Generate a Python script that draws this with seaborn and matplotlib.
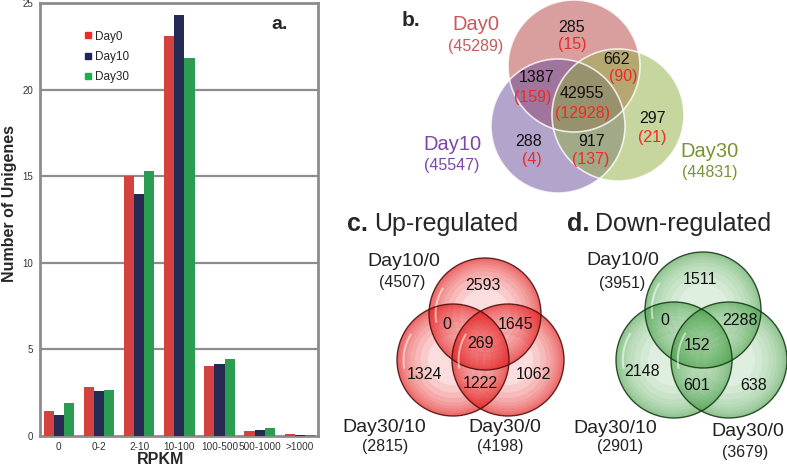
import matplotlib
matplotlib.use("Agg")
import matplotlib.pyplot as plt
from matplotlib.patches import Circle, Wedge
from matplotlib.lines import Line2D
import seaborn as sns
import pandas as pd

# ---------------- data ----------------
categories = ["0", "0-2", "2-10", "10-100", "100-500", "500-1000", ">1000"]
series = ["Day0", "Day10", "Day30"]
day0 = [1.45, 2.83, 15.0, 23.1, 4.05, 0.30, 0.10]
day10 = [1.2, 2.6, 14.0, 24.3, 4.18, 0.35, 0.08]
day30 = [1.92, 2.65, 15.3, 21.8, 4.45, 0.45, 0.08]
yticks = [0, 5, 10, 15, 20, 25]

# Venn b
venn_b_sets = ["Day0", "Day10", "Day30"]
venn_b_totals = ["(45289)", "(45547)", "(44831)"]
venn_b_counts = ["285", "662", "1387", "42955", "297", "288", "917"]
venn_b_sub = ["(15)", "(90)", "(159)", "(12928)", "(21)", "(4)", "(137)"]

# Venn c (up) and d (down)
venn_sets = ["Day10/0", "Day30/10", "Day30/0"]
venn_c_totals = ["(4507)", "(2815)", "(4198)"]
venn_c_counts = ["2593", "0", "1645", "269", "1324", "1222", "1062"]
venn_d_totals = ["(3951)", "(2901)", "(3679)"]
venn_d_counts = ["1511", "0", "2288", "152", "2148", "601", "638"]

# ---------------- style ----------------
sns.set_style("white")
plt.rcParams["font.family"] = ["Liberation Sans", "DejaVu Sans"]

fig = plt.figure(figsize=(7.87, 4.73), dpi=100)
W, H = 787, 473

# ---------------- panel a ----------------
ax = fig.add_axes([40 / W, 37 / H, 278 / W, 433 / H])
df = pd.DataFrame({
    "RPKM": categories * 3,
    "value": day0 + day10 + day30,
    "day": [s for s in series for _ in categories],
})
colors = ["#ec2a26", "#1e2459", "#18b04c"]
sns.barplot(data=df, x="RPKM", y="value", hue="day", palette=colors,
            width=0.76, gap=0, ax=ax, legend=False, zorder=3,
            edgecolor="none", linewidth=0)
ax.set_xlim(-0.47, 6.45)
ax.set_ylim(0, 25)
ax.set_yticks(yticks)
ax.set_yticklabels([str(v) for v in yticks], fontsize=7, color="#333333")
ax.tick_params(axis="y", length=0, pad=5)
ax.tick_params(axis="x", which="major", length=0, labelsize=7.2, pad=4,
               labelcolor="#333333")
ax.set_xticks([i + 0.5 for i in range(6)], minor=True)
ax.tick_params(axis="x", which="minor", direction="in", length=4, width=2,
               color="#8c8c8c")
for y in yticks[1:-1]:
    ax.axhline(y, color="#8c8c8c", lw=1.6, zorder=1)
for sp in ax.spines.values():
    sp.set_color("#8c8c8c")
    sp.set_linewidth(2)
ax.set_xlabel("RPKM", fontsize=11.5, fontweight="bold")
ax.xaxis.set_label_coords(0.435, -0.038)
ax.set_ylabel("Number of Unigenes", fontsize=11.5, fontweight="bold")
ax.yaxis.set_label_coords(-0.083, 0.536)
handles = [Line2D([], [], marker="s", ls="", color=c, markersize=4.5) for c in colors]
ax.legend(handles, series, loc="upper left", bbox_to_anchor=(0.14, 0.95),
          frameon=False, fontsize=8.5, handlelength=0.6, handletextpad=0.3,
          labelspacing=0.7, borderpad=0)
ax.text(0.862, 0.95, "a.", transform=ax.transAxes, fontsize=14,
        fontweight="bold", ha="center", va="center")

# ---------------- overlay for Venn diagrams ----------------
ov = fig.add_axes([0, 0, 1, 1])
ov.set_xlim(0, W)
ov.set_ylim(H, 0)
ov.axis("off")
ov.patch.set_visible(False)

# panel b
b_centers = [(574, 66), (558, 126), (618, 115)]
b_r = [66, 67, 66]
b_fill = ["#b44141", "#694b9b", "#91af41"]
for (cx, cy), r, c in zip(b_centers, b_r, b_fill):
    ov.add_patch(Circle((cx, cy), r, facecolor=c, alpha=0.5, edgecolor="none"))
for (cx, cy), r in zip(b_centers, b_r):
    ov.add_patch(Circle((cx, cy), r, fill=False, edgecolor="white", lw=1.2, alpha=0.8))

ov.text(411, 20, "b.", fontsize=15, fontweight="bold", ha="center", va="center")
b_label_pos = [(476, 25), (452, 144), (710, 151)]
b_total_pos = [(476, 46), (452, 165), (710, 172)]
b_label_col = ["#c85a5a", "#7a48a8", "#76962f"]
for s, t, p, q, c in zip(venn_b_sets, venn_b_totals, b_label_pos, b_total_pos, b_label_col):
    ov.text(*p, s, fontsize=14.5, color=c, ha="center", va="center")
    ov.text(*q, t, fontsize=11.5, color=c, ha="center", va="center")

b_num_pos = [(572, 27), (617, 59), (537, 78), (582, 94), (653, 118), (529, 141), (592, 141)]
b_sub_pos = [(572, 44), (623, 77), (533, 97), (583, 113), (652, 137), (532, 159), (591, 159)]
for s, p in zip(venn_b_counts, b_num_pos):
    ov.text(*p, s, fontsize=11.5, color="#111111", ha="center", va="center")
for s, p in zip(venn_b_sub, b_sub_pos):
    ov.text(*p, s, fontsize=11.5, color="#ee2a24", ha="center", va="center")


def glossy_venn(centers, r, color, edge, base_alpha, ring_alpha):
    fracs = [0.55, 0.42, 0.32, 0.24, 0.18, 0.13, 0.09, 0.06, 0.035]
    for (cx, cy) in centers:
        ov.add_patch(Circle((cx, cy), r, facecolor=color, alpha=base_alpha,
                            edgecolor="none"))
        for f in fracs:
            ov.add_patch(Wedge((cx, cy), r, 0, 360, width=r * f,
                               facecolor=color, alpha=ring_alpha, edgecolor="none"))
    for (cx, cy) in centers:
        ov.add_patch(Circle((cx, cy), r, fill=False, edgecolor=edge, lw=1.0, alpha=0.85))
        ov.add_patch(Wedge((cx, cy), r * 0.9, 170, 212, width=r * 0.035,
                           facecolor="white", alpha=0.55, edgecolor="none"))


# panel c
c_centers = [(485, 314), (453, 360), (508, 360)]
glossy_venn(c_centers, 56, "#e81c1c", "#4a0c0c", 0.15, 0.095)
ov.text(347, 224, "c.", fontsize=18, fontweight="bold", ha="left", va="center")
ov.text(374, 224, "Up-regulated", fontsize=18, ha="left", va="center")
c_num_pos = [(483, 285), (447, 324), (516, 324), (481, 343), (424, 374), (480, 383), (533, 374)]
for s, p in zip(venn_c_counts, c_num_pos):
    ov.text(*p, s, fontsize=11.5, color="#111111", ha="center", va="center")
c_label_pos = [(404, 261), (384, 427), (505, 427)]
c_total_pos = [(402, 282), (385, 446), (500, 446)]
for s, t, p, q in zip(venn_sets, venn_c_totals, c_label_pos, c_total_pos):
    ov.text(*p, s, fontsize=14, color="#222222", ha="center", va="center")
    ov.text(*q, t, fontsize=11.5, color="#222222", ha="center", va="center")

# panel d
d_centers = [(703, 310), (674, 360), (729, 360)]
glossy_venn(d_centers, 58, "#3c9c3c", "#123412", 0.16, 0.065)
ov.text(567, 224, "d.", fontsize=18, fontweight="bold", ha="left", va="center")
ov.text(595, 224, "Down-regulated", fontsize=18, ha="left", va="center")
d_num_pos = [(700, 279), (665, 320), (740, 320), (697, 345), (642, 371), (697, 385), (754, 385)]
for s, p in zip(venn_d_counts, d_num_pos):
    ov.text(*p, s, fontsize=11.5, color="#111111", ha="center", va="center")
d_label_pos = [(623, 260), (615, 428), (748, 431)]
d_total_pos = [(622, 283), (620, 446), (745, 452)]
for s, t, p, q in zip(venn_sets, venn_d_totals, d_label_pos, d_total_pos):
    ov.text(*p, s, fontsize=14, color="#222222", ha="center", va="center")
    ov.text(*q, t, fontsize=11.5, color="#222222", ha="center", va="center")

fig.savefig("out.png", dpi=100)
